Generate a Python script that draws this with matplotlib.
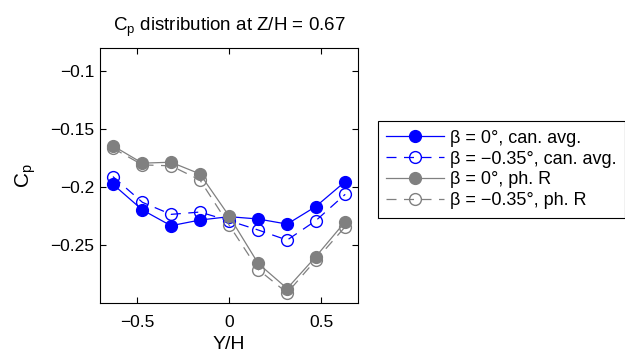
import numpy as np
import matplotlib
matplotlib.use('Agg')
import matplotlib.pyplot as plt

plt.rcParams['font.family'] = ['Liberation Sans', 'DejaVu Sans']
plt.rcParams['mathtext.fontset'] = 'custom'
plt.rcParams['mathtext.rm'] = 'Liberation Sans'
plt.rcParams['mathtext.it'] = 'Liberation Sans'

# data
y_h = [-0.63, -0.47, -0.315, -0.158, 0.0, 0.158, 0.315, 0.47, 0.63]
cp_b0_can = [-0.1975, -0.2197, -0.2333, -0.2284, -0.2255, -0.2275, -0.2319, -0.2168, -0.1952]
cp_b035_can = [-0.1909, -0.2131, -0.2235, -0.2215, -0.2290, -0.2370, -0.2457, -0.2290, -0.2062]
cp_b0_ph = [-0.1643, -0.1793, -0.1785, -0.1886, -0.2249, -0.2659, -0.2875, -0.2601, -0.2298]
cp_b035_ph = [-0.1664, -0.1808, -0.1816, -0.1938, -0.2327, -0.2711, -0.2913, -0.2630, -0.2342]
labels = ['β = 0°, can. avg.', 'β = −0.35°, can. avg.', 'β = 0°, ph. R', 'β = −0.35°, ph. R']

blue = '#0000ff'
gray = '#808080'
dash = (0, (8, 6))

fig = plt.figure(figsize=(6.25, 3.55), dpi=100)
ax = fig.add_axes([0.16, 0.1465, 0.413, 0.718])

ax.plot(y_h, cp_b0_can, '-o', color=blue, mfc=blue, mec=blue, ms=8.5, lw=0.9, label=labels[0])
ax.plot(y_h, cp_b035_can, marker='o', ls=dash, color=blue, mfc='none', mec=blue, ms=8.5, lw=0.9, label=labels[1])
ax.plot(y_h, cp_b0_ph, '-o', color=gray, mfc=gray, mec=gray, ms=8.5, lw=0.9, label=labels[2])
ax.plot(y_h, cp_b035_ph, marker='o', ls=dash, color=gray, mfc='none', mec=gray, ms=8.5, lw=0.9, label=labels[3])

ax.set_xlim(-0.7, 0.7)
ax.set_ylim(-0.3, -0.08)
ax.set_xticks([-0.5, 0, 0.5])
ax.set_xticklabels(['−0.5', '0', '0.5'])
ax.set_yticks([-0.25, -0.2, -0.15, -0.1])
ax.set_yticklabels(['−0.25', '−0.2', '−0.15', '−0.1'])
ax.tick_params(direction='in', top=True, right=True, labelsize=12.5, length=4, width=0.8)
ax.tick_params(axis='x', pad=9)
ax.tick_params(axis='y', pad=4)
for s in ax.spines.values():
    s.set_linewidth(0.8)

ax.set_xlabel('Y/H', fontsize=14, labelpad=4)
ax.set_ylabel('C$_\\mathregular{p}$', fontsize=15, labelpad=9)
ax.set_title('C$_\\mathregular{p}$ distribution at Z/H = 0.67', fontsize=13.5, pad=12)

leg = ax.legend(loc='center left', bbox_to_anchor=(0.605, 0.5225), bbox_transform=fig.transFigure,
                fancybox=False, edgecolor='black', framealpha=1, fontsize=13,
                handlelength=3.2, handletextpad=0.35, borderpad=0.45, labelspacing=0.22,
                borderaxespad=0)
leg.get_frame().set_linewidth(0.8)

fig.savefig('out.png', dpi=100)
